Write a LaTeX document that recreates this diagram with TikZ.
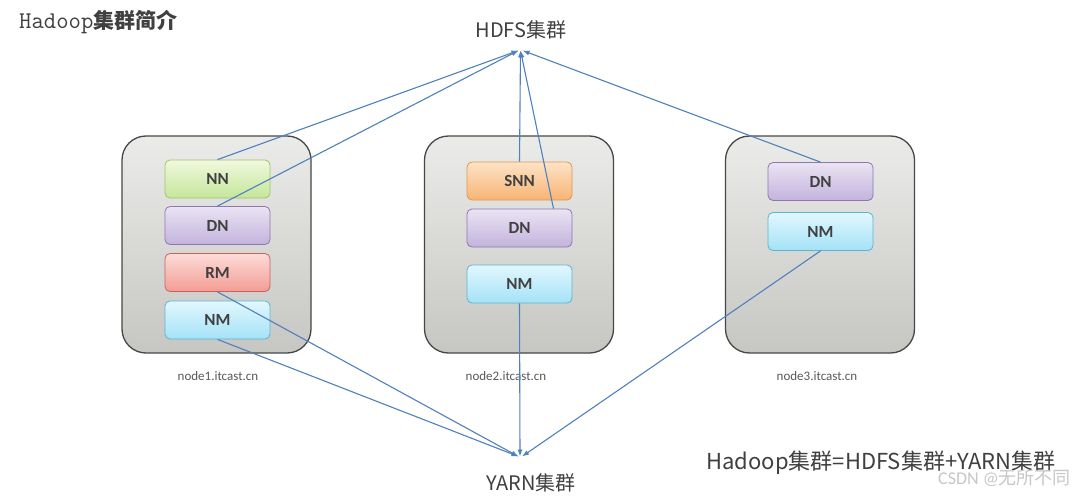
\documentclass[tikz,border=0pt]{standalone}
\usepackage{fontspec}
\setmainfont{Carlito}
\newfontfamily\cjk{Noto Sans CJK SC}
\usetikzlibrary{arrows.meta}
\definecolor{linec}{HTML}{4F81BD}
\definecolor{srvtop}{HTML}{EBEBE9}
\definecolor{srvbot}{HTML}{C6C7C3}
\definecolor{txt}{HTML}{404040}
\definecolor{lbl}{HTML}{595959}
\definecolor{nnt}{HTML}{F0F9DE}\definecolor{nnd}{HTML}{C5E69A}\definecolor{nnb}{HTML}{A3C46A}
\definecolor{dnt}{HTML}{EAE4F3}\definecolor{dnd}{HTML}{C3B3DD}\definecolor{dnb}{HTML}{8F77B0}
\definecolor{rmt}{HTML}{FCDCD8}\definecolor{rmd}{HTML}{F39C94}\definecolor{rmb}{HTML}{C9625E}
\definecolor{nmt}{HTML}{E2F7FE}\definecolor{nmd}{HTML}{A4E2F7}\definecolor{nmb}{HTML}{5EB4CF}
\definecolor{snt}{HTML}{FDE3C6}\definecolor{snd}{HTML}{F7B474}\definecolor{snb}{HTML}{E2964E}
\begin{document}
\begin{tikzpicture}[x=1pt,y=-1pt,
  server/.style={draw=black!72, line width=1.3pt, rounded corners=24pt,
    top color=srvtop, bottom color=srvbot, minimum width=189pt, minimum height=217pt},
  role/.style={rounded corners=5pt, line width=0.8pt, minimum width=105pt,
    minimum height=38pt, inner sep=0pt, font=\fontsize{17}{17}\selectfont\bfseries, text=txt},
  nnbox/.style={role, draw=nnb, top color=nnt, bottom color=nnd},
  dnbox/.style={role, draw=dnb, top color=dnt, bottom color=dnd},
  rmbox/.style={role, draw=rmb, top color=rmt, bottom color=rmd},
  nmbox/.style={role, draw=nmb, top color=nmt, bottom color=nmd},
  snbox/.style={role, draw=snb, top color=snt, bottom color=snd},
  hostlbl/.style={text=lbl, font=\fontsize{13}{13}\selectfont},
  biglbl/.style={text=txt, font=\cjk\fontsize{20}{20}\selectfont},
  conn/.style={draw=linec, line width=1.1pt, -{Latex[length=7pt,width=5pt]}},
]
\fill[white] (0,0) rectangle (1089,495);
\useasboundingbox (0,0) rectangle (1089,495);

% title
\node[anchor=west, text=txt, inner sep=0pt] (title) at (19,22)
  {{\ttfamily\fontsize{24}{24}\selectfont Hadoop}{\cjk\bfseries\fontsize{21}{21}\selectfont 集群简介}};

% servers
\node[server] (s1) at (216.5,244.5) {};
\node[server] (s2) at (519,244.5) {};
\node[server] (s3) at (820,244.5) {};

% roles node1
\node[nnbox] (nn1) at (217.5,179) {NN};
\node[dnbox] (dn1) at (217.5,225.5) {DN};
\node[rmbox] (rm1) at (217.5,272.5) {RM};
\node[nmbox] (nm1) at (217.5,320) {NM};
% roles node2
\node[snbox] (snn2) at (519.5,181) {SNN};
\node[dnbox] (dn2) at (519.5,228) {DN};
\node[nmbox] (nm2) at (519.5,284) {NM};
% roles node3
\node[dnbox] (dn3) at (820.5,181.5) {DN};
\node[nmbox] (nm3) at (820.5,231.5) {NM};

% host labels
\node[hostlbl] (h1) at (218,376) {node1.itcast.cn};
\node[hostlbl] (h2) at (506,376) {node2.itcast.cn};
\node[hostlbl] (h3) at (817,376) {node3.itcast.cn};

% cluster labels
\node[biglbl] (hdfs) at (521,30) {HDFS集群};
\node[biglbl] (yarn) at (531,483) {YARN集群};
\coordinate (hinL) at (518.5,50.5);
\coordinate (hinM) at (520.5,50.5);
\coordinate (hinR) at (522.5,50.5);
\coordinate (yinL) at (518.5,456.5);
\coordinate (yinM) at (520,456.5);
\coordinate (yinR) at (522,456.5);

% HDFS connectors
\draw[conn] (nn1.north) -- (hinL);
\draw[conn] (dn1.north) -- (hinL);
\draw[conn] (snn2.north) -- (hinM);
\draw[conn] ([xshift=34pt]dn2.north) -- (hinM);
\draw[conn] (dn3.north) -- (hinR);

% YARN connectors
\draw[conn] (rm1.south) -- (yinL);
\draw[conn] (nm1.south) -- (yinL);
\draw[conn] (nm2.south) -- (yinM);
\draw[conn] (nm3.south) -- (yinR);

% equation text
\node[biglbl, anchor=west, font=\cjk\fontsize{22}{22}\selectfont] (eq) at (703,463)
  {Hadoop集群=HDFS集群+YARN集群};
% watermark
\node[text=black!22, font=\fontsize{18}{18}\selectfont, anchor=west, inner sep=0pt] (wm) at (938,478)
  {CSDN @{\cjk 无所不同}};
\end{tikzpicture}
\end{document}
